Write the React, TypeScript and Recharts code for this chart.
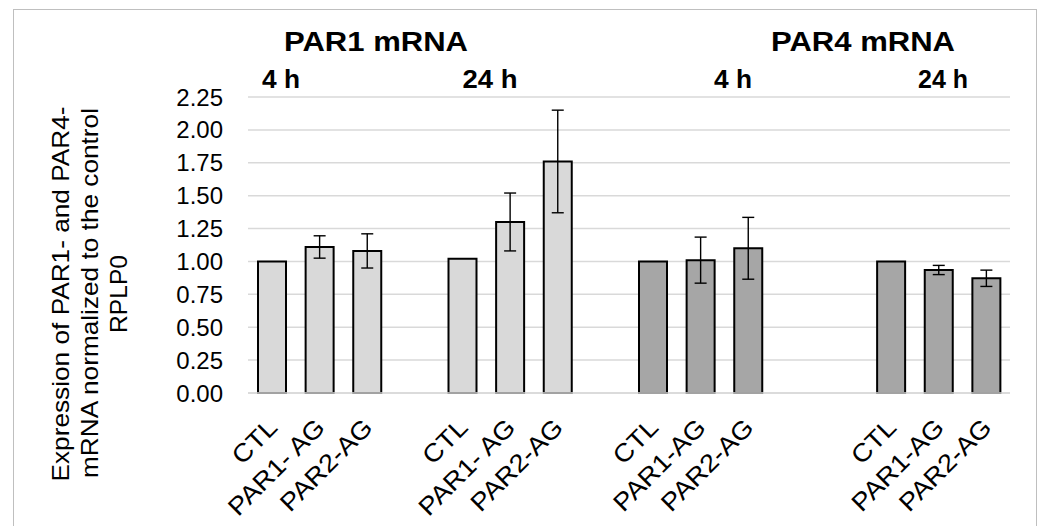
import { BarChart, Bar, XAxis, YAxis, CartesianGrid, ErrorBar, Cell } from "recharts";

const FONT = '"Liberation Sans", Arial, sans-serif';

// 16 slots on the category axis; "" entries are spacer columns between the groups
const tickLabels = [
  "CTL", "PAR1- AG", "PAR2-AG", "",
  "CTL", "PAR1- AG", "PAR2-AG", "",
  "CTL", "PAR1-AG", "PAR2-AG", "", "",
  "CTL", "PAR1-AG", "PAR2-AG",
];
const gene = [
  "PAR1", "PAR1", "PAR1", null,
  "PAR1", "PAR1", "PAR1", null,
  "PAR4", "PAR4", "PAR4", null, null,
  "PAR4", "PAR4", "PAR4",
];
const expression = [
  1.0, 1.11, 1.08, null,
  1.02, 1.3, 1.76, null,
  1.0, 1.01, 1.1, null, null,
  1.0, 0.935, 0.872,
];
const errors = [
  0, 0.085, 0.13, null,
  0, 0.22, 0.39, null,
  0, 0.175, 0.235, null, null,
  0, 0.035, 0.062,
];
const yTicks = [0, 0.25, 0.5, 0.75, 1, 1.25, 1.5, 1.75, 2, 2.25];

const geneColor: Record<string, string> = { PAR1: "#d9d9d9", PAR4: "#a6a6a6" };

const data = tickLabels.map((label, i) => ({
  label,
  gene: gene[i],
  value: expression[i],
  err: errors[i],
}));

function XTick(props: any) {
  const { x, y, payload } = props;
  if (!payload.value) return null;
  const ax = x + 7;
  const ay = y + 36;
  return (
    <text
      x={0}
      y={0}
      transform={`translate(${ax},${ay}) rotate(-45) scale(1.1,1)`}
      textAnchor="end"
      fontSize={25}
      fontFamily={FONT}
      fill="#000"
    >
      {payload.value}
    </text>
  );
}

export default function App() {
  return (
    <div
      style={{
        position: "absolute",
        left: 0,
        top: 0,
        width: 1046,
        height: 526,
        overflow: "hidden",
        background: "#fff",
        fontFamily: FONT,
      }}
    >
      <div
        style={{
          position: "absolute",
          left: 13,
          top: 9,
          width: 1022,
          height: 560,
          border: "1px solid #bfbfbf",
        }}
      />
      <BarChart
        width={1046}
        height={526}
        data={data}
        margin={{ top: 97, right: 36, bottom: 33, left: 188 }}
      >
        <CartesianGrid vertical={false} stroke="#d9d9d9" strokeWidth={1.5} />
        <XAxis
          dataKey="label"
          interval={0}
          height={100}
          tickLine={false}
          tickSize={0}
          tickMargin={0}
          axisLine={{ stroke: "#d9d9d9", strokeWidth: 1.5 }}
          tick={<XTick />}
        />
        <YAxis
          width={60}
          domain={[0, 2.25]}
          ticks={yTicks}
          axisLine={false}
          tickLine={false}
          tickSize={0}
          tickMargin={25}
          tickFormatter={(v: number) => v.toFixed(2)}
          tick={{ fill: "#000", fontSize: 24, fontFamily: FONT }}
        />
        <Bar dataKey="value" barSize={28} stroke="#000" strokeWidth={2} isAnimationActive={false}>
          {data.map((d, i) => (
            <Cell key={i} fill={d.gene ? geneColor[d.gene] : "none"} />
          ))}
          <ErrorBar dataKey="err" width={6} stroke="#000" strokeWidth={1.4} direction="y" />
        </Bar>
      </BarChart>
      <svg
        width={1046}
        height={526}
        style={{ position: "absolute", left: 0, top: 0, pointerEvents: "none" }}
        fontFamily={FONT}
      >
        <g fontWeight="bold" textAnchor="middle" fill="#000">
          <text x={376} y={51} fontSize={27} textLength={184} lengthAdjust="spacingAndGlyphs">PAR1 mRNA</text>
          <text x={863} y={51} fontSize={27} textLength={184} lengthAdjust="spacingAndGlyphs">PAR4 mRNA</text>
          <text x={281} y={88} fontSize={26} textLength={38} lengthAdjust="spacingAndGlyphs">4 h</text>
          <text x={490} y={88} fontSize={26} textLength={55} lengthAdjust="spacingAndGlyphs">24 h</text>
          <text x={733} y={88} fontSize={26} textLength={38} lengthAdjust="spacingAndGlyphs">4 h</text>
          <text x={943} y={88} fontSize={26} textLength={50} lengthAdjust="spacingAndGlyphs">24 h</text>
        </g>
        <g fontSize={24} textAnchor="middle" fill="#000">
          <text transform="translate(69,294) rotate(-90)" textLength={375} lengthAdjust="spacingAndGlyphs">Expression of PAR1- and PAR4-</text>
          <text transform="translate(98,293) rotate(-90)" textLength={370} lengthAdjust="spacingAndGlyphs">mRNA normalized to the control</text>
          <text transform="translate(127,294) rotate(-90)" textLength={78} lengthAdjust="spacingAndGlyphs">RPLP0</text>
        </g>
      </svg>
    </div>
  );
}
